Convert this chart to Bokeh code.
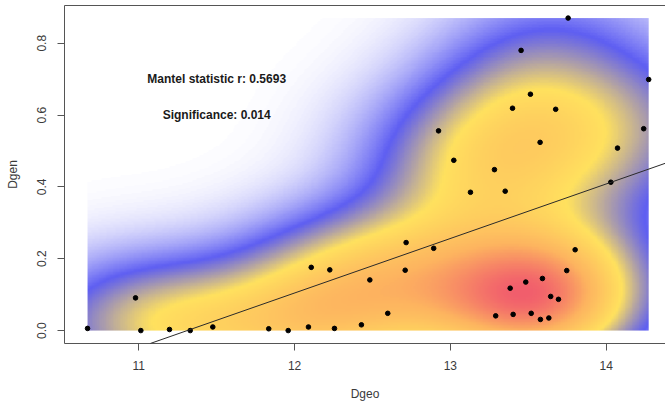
import numpy as np
from bokeh.plotting import figure
from bokeh.models import (LinearColorMapper, Slope, LinearAxis, FixedTicker,
                          Range1d)
from bokeh.core.properties import value
from bokeh.embed import file_html
from bokeh.resources import INLINE

# Pairwise distances: geographic (log scale) vs genetic
dgeo = [10.671, 10.979, 11.013, 11.197, 11.330, 11.475, 11.834, 11.959, 12.089,
        12.107, 12.226, 12.256, 12.429, 12.483, 12.598, 12.716, 12.710, 12.893,
        13.801, 13.747, 13.484, 13.591, 13.384, 13.644, 13.694, 13.291, 13.403,
        13.519, 13.578, 13.632, 13.756, 13.454, 14.273, 13.514, 13.399, 13.676,
        12.924, 14.241, 13.576, 14.073, 13.022, 13.283, 14.030, 13.129, 13.352]
dgen = [0.006, 0.091, 0.000, 0.003, 0.000, 0.010, 0.005, 0.000, 0.010,
        0.176, 0.169, 0.006, 0.016, 0.141, 0.048, 0.245, 0.168, 0.229,
        0.225, 0.167, 0.135, 0.145, 0.118, 0.095, 0.087, 0.041, 0.045,
        0.048, 0.031, 0.035, 0.870, 0.780, 0.699, 0.658, 0.619, 0.616,
        0.556, 0.562, 0.524, 0.508, 0.474, 0.448, 0.413, 0.385, 0.388]

x_ticks = [11, 12, 13, 14]
y_ticks = [0.0, 0.2, 0.4, 0.6, 0.8]
y_tick_labels = {0.0: "0.0", 0.2: "0.2", 0.4: "0.4", 0.6: "0.6", 0.8: "0.8"}

mantel_r = 0.5693
significance = 0.014

ramp = ["#FFFFFF", "#5E5EF2", "#FFE15E", "#FDB45F", "#F15E6C"]

x = np.asarray(dgeo)
y = np.asarray(dgen)
n = len(x)


def bandwidth_nrd(v):
    q1, q3 = np.percentile(v, [25, 75])
    h = (q3 - q1) / 1.34
    return 4 * 1.06 * min(np.std(v, ddof=1), h) * len(v) ** (-0.2)


# 2-D kernel density estimate over the data range
hx = bandwidth_nrd(x) / 4
hy = bandwidth_nrd(y) / 4
gx = np.linspace(x.min(), x.max(), 320)
gy = np.linspace(y.min(), y.max(), 200)
kx = np.exp(-0.5 * ((gx[:, None] - x[None, :]) / hx) ** 2) / np.sqrt(2 * np.pi)
ky = np.exp(-0.5 * ((gy[:, None] - y[None, :]) / hy) ** 2) / np.sqrt(2 * np.pi)
z = kx @ ky.T / (n * hx * hy)


def hex_to_rgb(h):
    return [int(h[i:i + 2], 16) for i in (1, 3, 5)]


def interp_palette(stops, count):
    rgb = np.array([hex_to_rgb(c) for c in stops], dtype=float)
    pos = np.linspace(0, 1, len(stops))
    t = np.linspace(0, 1, count)
    out = []
    for ti in t:
        c = [np.interp(ti, pos, rgb[:, k]) for k in range(3)]
        out.append("#%02x%02x%02x" % tuple(int(round(v)) for v in c))
    return out


palette = interp_palette(ramp, 256)
mapper = LinearColorMapper(palette=palette, low=float(z.min()), high=float(z.max()))

p = figure(width=665, height=404, output_backend="svg", toolbar_location=None,
           x_range=Range1d(10.523, 14.381), y_range=Range1d(-0.036, 0.905),
           min_border_left=64, min_border_right=0, min_border_top=5,
           min_border_bottom=61, x_axis_location=None, y_axis_location=None)
p.grid.visible = False
p.outline_line_color = None
p.background_fill_color = "white"

p.image(image=[z.T], x=float(x.min()), y=float(y.min()),
        dw=float(x.max() - x.min()), dh=float(y.max() - y.min()),
        color_mapper=mapper)

# least-squares line
slope, intercept = np.polyfit(x, y, 1)
p.add_layout(Slope(gradient=slope, y_intercept=intercept,
                   line_color="#2a2a2a", line_width=1))

p.scatter(x, y, size=4.6, color="black")

p.text(x=[11.5, 11.5], y=[0.7, 0.6],
       text=[f"Mantel statistic r: {mantel_r}", f"Significance: {significance}"],
       text_align="center", text_baseline="middle", text_font_size="12px",
       text_font=value("Liberation Sans"), text_font_style="bold",
       text_color="#1a1a1a")

axis_color = "#555555"
label_color = "#3a3a3a"

xa = LinearAxis(ticker=FixedTicker(ticks=x_ticks), axis_label="Dgeo")
ya = LinearAxis(ticker=FixedTicker(ticks=y_ticks), axis_label="Dgen",
                major_label_overrides=y_tick_labels,
                major_label_orientation="vertical")
# plain frame line along the top
top = LinearAxis(ticker=FixedTicker(ticks=[]), axis_line_color=axis_color,
                 major_tick_line_color=None, minor_tick_line_color=None)
for ax in (xa, ya):
    ax.axis_line_color = axis_color
    ax.major_tick_line_color = axis_color
    ax.major_tick_out = 7
    ax.major_tick_in = 0
    ax.minor_tick_line_color = None
    ax.major_label_text_font = "Liberation Sans"
    ax.major_label_text_font_size = "12px"
    ax.major_label_text_color = label_color
    ax.axis_label_text_font = "Liberation Sans"
    ax.axis_label_text_font_size = "12px"
    ax.axis_label_text_font_style = "normal"
    ax.axis_label_text_color = label_color
xa.major_label_standoff = 10
xa.axis_label_standoff = 14
ya.major_label_standoff = 11
ya.axis_label_standoff = 15

p.add_layout(xa, "below")
p.add_layout(ya, "left")
p.add_layout(top, "above")

open("out.html", "w").write(file_html(p, INLINE))
